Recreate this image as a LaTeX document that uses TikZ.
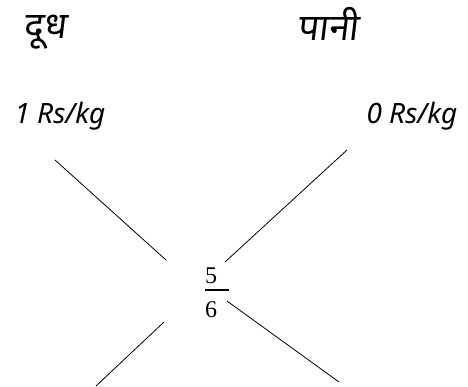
\documentclass[tikz,border=0pt]{standalone}
\usepackage{fontspec}
\newfontfamily\devfont[Script=Devanagari,FakeSlant=0.12]{Noto Sans}
\newfontfamily\hwfont{Noto Sans}[ItalicFont=* Italic]
\newfontfamily\numfont{Liberation Serif}
\begin{document}
\begin{tikzpicture}[x=1pt,y=-1pt,
  lbl/.style={inner sep=0pt,anchor=center},
  dev/.style={lbl,font=\devfont\fontsize{37}{42}\selectfont},
  rate/.style={lbl,font=\hwfont\itshape\fontsize{28}{32}\selectfont},
  num/.style={lbl,font=\numfont\fontsize{24}{28}\selectfont},
  ln/.style={line width=0.8pt,black}]
\useasboundingbox (0,0) rectangle (468,386);
\node[dev] (milk) at (45,32) {दूध};
\node[dev] (water) at (328,24) {पानी};
\node[rate] (r1) at (60,116) {1 Rs/kg};
\node[rate] (r0) at (412,116) {0 Rs/kg};
\node[num] (n5) at (211,276) {5};
\node[num] (n6) at (211,310) {6};
\draw[line width=2.8pt] (205,290) -- (229,290);
\coordinate (a1) at (55,160);
\coordinate (a2) at (166,260);
\coordinate (b1) at (347,150);
\coordinate (b2) at (225,262);
\coordinate (c1) at (164,322);
\coordinate (c2) at (96,386);
\coordinate (d1) at (227,301);
\coordinate (d2) at (339,382);
\draw[ln] (a1) -- (a2);
\draw[ln] (b1) -- (b2);
\draw[ln] (c1) -- (c2);
\draw[ln] (d1) -- (d2);
\end{tikzpicture}
\end{document}
